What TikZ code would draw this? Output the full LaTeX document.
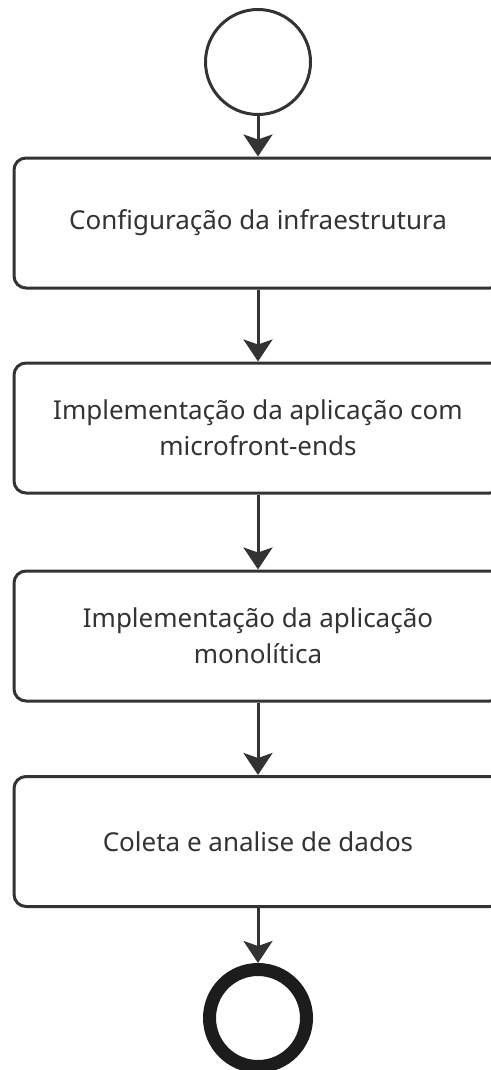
\documentclass[tikz,border=0pt]{standalone}
\usepackage{fontspec}
\setmainfont{Noto Sans}
\usetikzlibrary{arrows.meta}
\definecolor{ink}{HTML}{333333}
\definecolor{inkdark}{HTML}{1C1C1C}
\tikzset{
  stepbox/.style={draw=ink, line width=3pt, rounded corners=12pt,
    minimum width=488pt, minimum height=130pt, inner sep=0pt,
    align=center, text=ink, font=\fontsize{26}{36}\selectfont},
  startnode/.style={draw=ink, line width=3pt, circle, minimum size=105pt, inner sep=0pt},
  endnode/.style={draw=inkdark, line width=13pt, circle, minimum size=97pt, inner sep=0pt},
  flow/.style={draw=ink, line width=3pt,
    -{Stealth[length=22pt, width=29pt, inset=5pt]}}
}
\begin{document}
\begin{tikzpicture}[x=1pt, y=-1pt]
  \useasboundingbox (0,0) rectangle (490,1070);
  \fill[white] (0,0) rectangle (490,1070);

  \node[startnode] (start) at (258,62) {};
  \node[stepbox] (infra) at (258,223) {Configuração da infraestrutura};
  \node[stepbox] (micro) at (258,428) {Implementação da aplicação com\\microfront-ends};
  \node[stepbox] (mono) at (258,636) {Implementação da aplicação\\monolítica};
  \node[stepbox] (dados) at (258,841.5) {Coleta e analise de dados};
  \node[endnode] (end) at (258,1018) {};

  \draw[flow] (start) -- (infra);
  \draw[flow] (infra) -- (micro);
  \draw[flow] (micro) -- (mono);
  \draw[flow] (mono) -- (dados);
  \draw[flow] (dados) -- (end);
\end{tikzpicture}
\end{document}
